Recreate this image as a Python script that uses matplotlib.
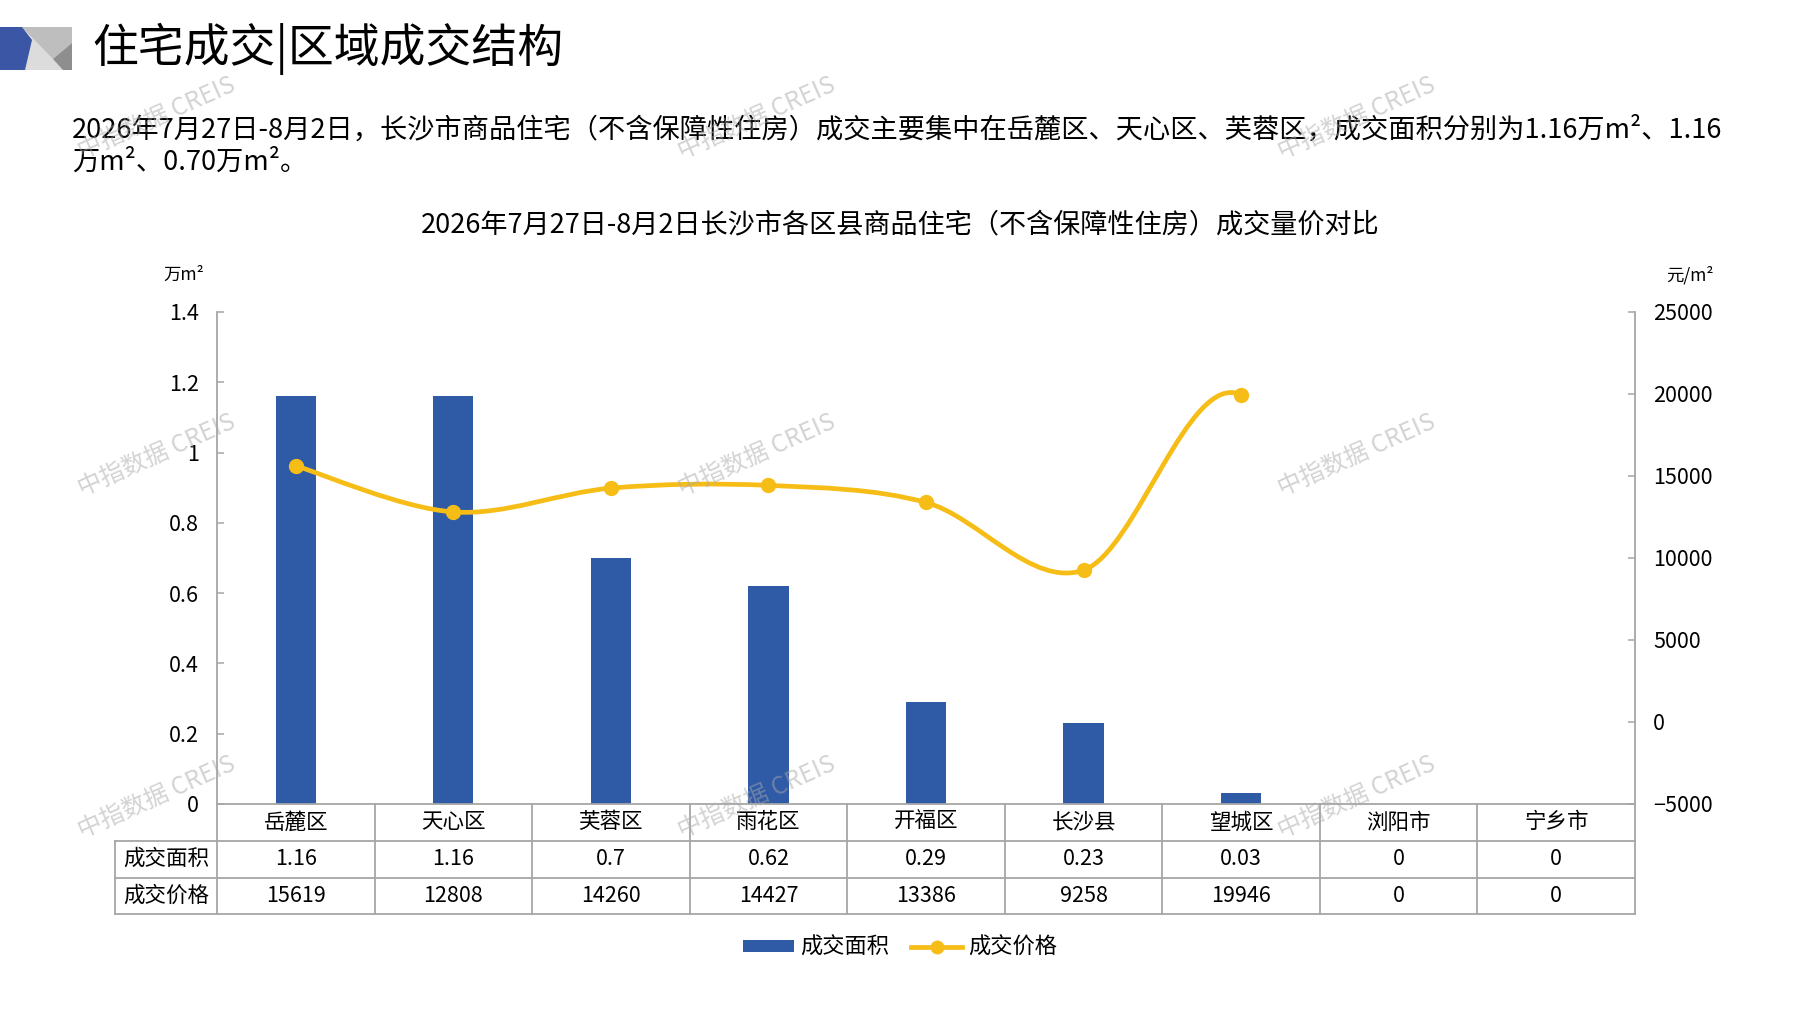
import numpy as np
import matplotlib
matplotlib.use('Agg')
import matplotlib.pyplot as plt
import matplotlib.transforms as mtransforms
from matplotlib.path import Path
from matplotlib.patches import PathPatch, Polygon, Patch
from matplotlib.lines import Line2D
from matplotlib.ticker import FuncFormatter

plt.rcParams['font.family'] = ['Noto Sans CJK SC', 'DejaVu Sans']
plt.rcParams['font.weight'] = 'light'

# data
districts = ['岳麓区', '天心区', '芙蓉区', '雨花区', '开福区', '长沙县', '望城区', '浏阳市', '宁乡市']
area = [1.16, 1.16, 0.7, 0.62, 0.29, 0.23, 0.03, 0, 0]
price = [15619, 12808, 14260, 14427, 13386, 9258, 19946, 0, 0]
area_text = ['1.16', '1.16', '0.7', '0.62', '0.29', '0.23', '0.03', '0', '0']
row_names = ['成交面积', '成交价格']

header = '住宅成交|区域成交结构'
para1 = '2026年7月27日-8月2日，长沙市商品住宅（不含保障性住房）成交主要集中在岳麓区、天心区、芙蓉区，成交面积分别为1.16万m²、1.16'
para2 = '万m²、0.70万m²。'
chart_title = '2026年7月27日-8月2日长沙市各区县商品住宅（不含保障性住房）成交量价对比'
watermark = '中指数据 CREIS'

BLUE = '#2F5AA6'
GOLD = '#F6BD16'
GRID = '#A6A6A6'

W, H = 1797, 1010
fig = plt.figure(figsize=(W / 100, H / 100), dpi=100)

# main axes (pixel layout)
x0, x1, ytop, ybot = 217, 1635, 312, 804
ax = fig.add_axes([x0 / W, 1 - ybot / H, (x1 - x0) / W, (ybot - ytop) / H])
ax2 = ax.twinx()

x = np.arange(len(districts))
ax.bar(x, area, width=0.255, color=BLUE, zorder=2)
ax.set_xlim(-0.5, len(districts) - 0.5)
ax.set_ylim(0, 1.4)
ax.set_yticks(np.arange(0, 1.41, 0.2))
ax.yaxis.set_major_formatter(FuncFormatter(lambda v, p: f'{v:g}'))
ax.set_xticks([])

ax2.set_ylim(-5000, 25000)
ax2.set_yticks(np.arange(-5000, 25001, 5000))

for a in (ax, ax2):
    a.tick_params(axis='y', direction='in', length=5, width=1.1, colors=GRID,
                  labelcolor='black', labelsize=15.5, pad=13)
    a.spines['top'].set_visible(False)
    a.set_facecolor('none')
ax.spines['right'].set_visible(False)
ax2.spines['left'].set_visible(False)
ax2.spines['bottom'].set_visible(False)
ax.spines['left'].set_color(GRID)
ax.spines['bottom'].set_color(GRID)
ax2.spines['right'].set_color(GRID)
for s in ('left', 'bottom'):
    ax.spines[s].set_linewidth(1.3)
ax2.spines['right'].set_linewidth(1.3)


# smoothed price line, excel style bezier through the points
def smooth_path(xs, ys):
    xs = np.asarray(xs, float)
    ys = np.asarray(ys, float)
    n = len(xs)
    ok = ys > 0
    verts, codes = [], []
    last = None
    for i in range(n - 1):
        if not (ok[i] and ok[i + 1]):
            continue
        p0 = np.array([xs[max(i - 1, 0)], ys[max(i - 1, 0)]])
        p1 = np.array([xs[i], ys[i]])
        p2 = np.array([xs[i + 1], ys[i + 1]])
        p3 = np.array([xs[min(i + 2, n - 1)], ys[min(i + 2, n - 1)]])
        c1 = p1 + (p2 - p0) / 6
        c2 = p2 - (p3 - p1) / 6
        if last != i:
            verts.append(p1)
            codes.append(Path.MOVETO)
        verts += [c1, c2, p2]
        codes += [Path.CURVE4] * 3
        last = i + 1
    return Path(verts, codes), ok


path, ok = smooth_path(x, price)
ax2.add_patch(PathPatch(path, fill=False, edgecolor=GOLD, lw=3.4,
                        capstyle='round', joinstyle='round', zorder=3))
ax2.plot(x[ok], np.array(price)[ok], 'o', color=GOLD, ms=10, zorder=4)

# data table under the axes
trans = mtransforms.blended_transform_factory(ax.transData, ax.transAxes)
rh = 36.8 / (ybot - ytop)
xl = -0.5 - (x0 - 115) / (x1 - x0) * len(districts)
lk = dict(color=GRID, lw=1.3, transform=trans, clip_on=False)
for r in (1, 2, 3):
    ax.plot([xl, len(districts) - 0.5], [-r * rh, -r * rh], **lk)
for k in range(len(districts) + 1):
    ax.plot([k - 0.5, k - 0.5], [0, -3 * rh], **lk)
ax.plot([xl, xl], [-rh, -3 * rh], **lk)

tk = dict(transform=trans, ha='center', va='center', fontsize=15.5, clip_on=False)
for i, name in enumerate(districts):
    ax.text(i, -0.5 * rh, name, **tk)
    ax.text(i, -1.5 * rh, area_text[i], **tk)
    ax.text(i, -2.5 * rh, str(price[i]), **tk)
xm = (xl - 0.5) / 2
ax.text(xm, -1.5 * rh, row_names[0], **tk)
ax.text(xm, -2.5 * rh, row_names[1], **tk)

# legend
handles = [Patch(facecolor=BLUE, edgecolor='none'),
           Line2D([], [], color=GOLD, lw=3.4, marker='o', ms=9)]
fig.legend(handles, row_names, loc='center', bbox_to_anchor=(900 / W, 1 - 947 / H),
           ncol=2, frameon=False, fontsize=16, handlelength=2.3, handleheight=0.45,
           columnspacing=1.0, handletextpad=0.25)

# page decorations in pixel coords
deco = fig.add_axes([0, 0, 1, 1], zorder=5)
deco.set_xlim(0, W)
deco.set_ylim(H, 0)
deco.axis('off')
deco.set_facecolor('none')

deco.add_patch(Polygon([(0, 27), (72, 27), (72, 70), (0, 70)], closed=True,
                       facecolor='#DCDCDC', edgecolor='none'))
deco.add_patch(Polygon([(22, 27), (72, 27), (72, 43), (53, 59)], closed=True,
                       facecolor='#BEBEBE', edgecolor='none'))
deco.add_patch(Polygon([(72, 43), (53, 59), (63, 70), (72, 70)], closed=True,
                       facecolor='#8E8E8E', edgecolor='none'))
deco.add_patch(Polygon([(0, 27), (22, 27), (32, 40), (25, 70), (0, 70)], closed=True,
                       facecolor='#3A56A5', edgecolor='none'))

deco.text(92, 49, header, fontsize=33, va='center', ha='left')
deco.text(72, 130, para1, fontsize=19.6, va='center', ha='left')
deco.text(72, 162, para2, fontsize=19.6, va='center', ha='left')
deco.text(900, 225, chart_title, fontsize=19.5, va='center', ha='center')
deco.text(184, 275, '万m²', fontsize=12.5, va='center', ha='center')
deco.text(1690, 275, '元/m²', fontsize=12.5, va='center', ha='center')

for wx in (157, 757, 1357):
    for wy in (118, 455, 797):
        deco.text(wx, wy, watermark, fontsize=17.5, color='#A8A8A8', alpha=0.5,
                  rotation=24, ha='center', va='center')

fig.savefig('out.png', dpi=100)
